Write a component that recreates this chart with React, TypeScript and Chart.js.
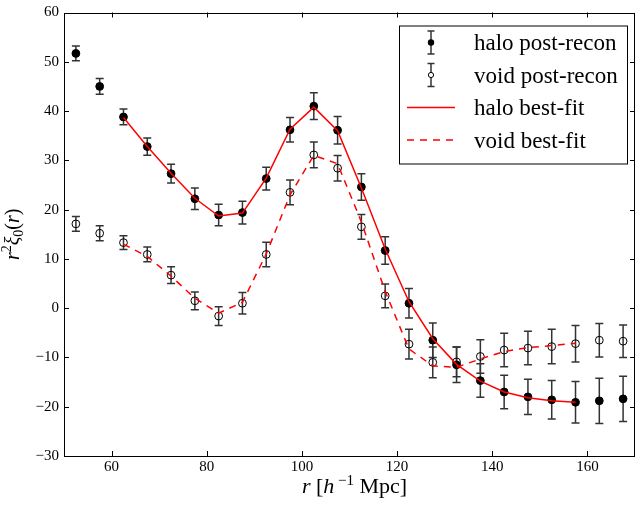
import React, { useEffect, useRef } from 'react';
import { Chart, registerables } from 'chart.js';

Chart.register(...registerables);

// ---- data ----
const rPoints = [52.5, 57.5, 62.5, 67.5, 72.5, 77.5, 82.5, 87.5, 92.5, 97.5, 102.5, 107.5, 112.5, 117.5, 122.5, 127.5, 132.5, 137.5, 142.5, 147.5, 152.5, 157.5, 162.5, 167.5];
const haloValues = [51.7, 45.0, 38.8, 32.8, 27.3, 22.2, 18.9, 19.4, 26.3, 36.2, 41.0, 36.1, 24.6, 11.7, 1.0, -6.5, -11.5, -14.7, -17.0, -18.0, -18.6, -19.1, -18.8, -18.4];
const haloErrors = [1.5, 1.6, 1.6, 1.75, 1.9, 2.2, 2.2, 2.3, 2.3, 2.5, 2.7, 2.8, 2.7, 2.8, 3.0, 3.5, 3.6, 3.4, 3.4, 3.6, 3.9, 4.2, 4.6, 4.6];
const voidValues = [17.1, 15.2, 13.3, 10.9, 6.7, 1.5, -1.6, 1.0, 10.9, 23.5, 31.1, 28.4, 16.5, 2.5, -7.3, -11.0, -10.9, -9.8, -8.5, -8.1, -7.8, -7.2, -6.5, -6.7];
const voidErrors = [1.5, 1.5, 1.4, 1.5, 1.7, 1.8, 1.9, 2.2, 2.5, 2.5, 2.6, 2.6, 2.5, 2.4, 3.0, 3.1, 3.0, 3.4, 3.4, 3.4, 3.5, 3.7, 3.4, 3.3];
const rFit = [62.5, 67.5, 72.5, 77.5, 82.5, 87.5, 92.5, 97.5, 102.5, 107.5, 112.5, 117.5, 122.5, 127.5, 132.5, 137.5, 142.5, 147.5, 152.5, 157.5];
const haloFit = [38.7, 32.8, 27.4, 22.3, 18.7, 19.3, 26.4, 36.3, 40.8, 36.0, 24.4, 12.0, 1.3, -6.2, -11.4, -14.8, -17.0, -18.2, -18.8, -19.1];
const voidFit = [13.0, 10.5, 6.5, 2.0, -1.0, 1.2, 11.0, 23.0, 31.0, 29.3, 17.5, 3.4, -8.3, -11.7, -12.0, -10.3, -8.8, -8.0, -7.6, -7.1];
const xTickValues = [60, 80, 100, 120, 140, 160];
const yTickValues = [-30, -20, -10, 0, 10, 20, 30, 40, 50, 60];
const legendLabels = ['halo post-recon', 'void post-recon', 'halo best-fit', 'void best-fit'];

const SERIF = '"Liberation Serif", "Times New Roman", serif';
const RED = '#ff0000';
const ERR = '#333333';
const DASH = [7, 6];

type Piece = { t: string; style?: 'i' | 'n'; shift?: number; size?: number };

function drawPieces(ctx: CanvasRenderingContext2D, pieces: Piece[], base: number, cx: number, y: number) {
  const fontOf = (p: Piece) => `${p.style === 'i' ? 'italic ' : ''}${p.size ?? base}px ${SERIF}`;
  let total = 0;
  for (const p of pieces) {
    ctx.font = fontOf(p);
    total += ctx.measureText(p.t).width;
  }
  let x = cx - total / 2;
  ctx.textAlign = 'left';
  ctx.textBaseline = 'alphabetic';
  for (const p of pieces) {
    ctx.font = fontOf(p);
    ctx.fillText(p.t, x, y + (p.shift ?? 0));
    x += ctx.measureText(p.t).width;
  }
}

const errorBarPlugin = {
  id: 'errorBars',
  beforeDatasetsDraw(chart: any) {
    const { ctx } = chart;
    const xs = chart.scales.x;
    const ys = chart.scales.y;
    ctx.save();
    ctx.strokeStyle = ERR;
    ctx.lineWidth = 1.5;
    const draw = (vals: number[], errs: number[]) => {
      rPoints.forEach((r, i) => {
        const px = xs.getPixelForValue(r);
        const top = ys.getPixelForValue(vals[i] + errs[i]);
        const bot = ys.getPixelForValue(vals[i] - errs[i]);
        ctx.beginPath();
        ctx.moveTo(px, top);
        ctx.lineTo(px, bot);
        ctx.moveTo(px - 4, top);
        ctx.lineTo(px + 4, top);
        ctx.moveTo(px - 4, bot);
        ctx.lineTo(px + 4, bot);
        ctx.stroke();
      });
    };
    draw(haloValues, haloErrors);
    draw(voidValues, voidErrors);
    ctx.restore();
  },
};

const framePlugin = {
  id: 'frameTicksLegend',
  afterDraw(chart: any) {
    const { ctx, chartArea: a } = chart;
    const xs = chart.scales.x;
    const ys = chart.scales.y;
    ctx.save();
    // frame
    ctx.strokeStyle = '#000';
    ctx.lineWidth = 1;
    ctx.strokeRect(Math.round(a.left) + 0.5, Math.round(a.top) + 0.5, Math.round(a.right - a.left) - 1, Math.round(a.bottom - a.top) - 1);
    // inward ticks
    const L = 5;
    ctx.beginPath();
    xTickValues.forEach((v) => {
      const px = Math.round(xs.getPixelForValue(v)) + 0.5;
      ctx.moveTo(px, a.bottom);
      ctx.lineTo(px, a.bottom - L);
      ctx.moveTo(px, a.top);
      ctx.lineTo(px, a.top + L);
    });
    yTickValues.forEach((v) => {
      const py = Math.round(ys.getPixelForValue(v)) + 0.5;
      ctx.moveTo(a.left, py);
      ctx.lineTo(a.left + L, py);
      ctx.moveTo(a.right, py);
      ctx.lineTo(a.right - L, py);
    });
    ctx.stroke();

    // legend
    const lx = a.right - 236;
    const ly = a.top + 13;
    const lw = 228;
    const lh = 138;
    ctx.fillStyle = '#fff';
    ctx.fillRect(lx, ly, lw, lh);
    ctx.strokeStyle = '#000';
    ctx.lineWidth = 1;
    ctx.strokeRect(lx + 0.5, ly + 0.5, lw, lh);
    const rowBase = [24.5, 57, 89.5, 122];
    const handleX = lx + 32;
    legendLabels.forEach((label, i) => {
      const by = ly + rowBase[i];
      const my = by - 7.5;
      if (i < 2) {
        ctx.strokeStyle = ERR;
        ctx.lineWidth = 1.5;
        ctx.beginPath();
        ctx.moveTo(handleX, my - 11.5);
        ctx.lineTo(handleX, my + 11.5);
        ctx.moveTo(handleX - 3.5, my - 11.5);
        ctx.lineTo(handleX + 3.5, my - 11.5);
        ctx.moveTo(handleX - 3.5, my + 11.5);
        ctx.lineTo(handleX + 3.5, my + 11.5);
        ctx.stroke();
        ctx.beginPath();
        ctx.arc(handleX, my, i === 0 ? 3.2 : 2.6, 0, Math.PI * 2);
        if (i === 0) {
          ctx.fillStyle = '#000';
          ctx.fill();
        } else {
          ctx.fillStyle = '#fff';
          ctx.fill();
          ctx.strokeStyle = '#000';
          ctx.lineWidth = 1;
          ctx.stroke();
        }
      } else {
        ctx.strokeStyle = RED;
        ctx.lineWidth = 1.5;
        ctx.setLineDash(i === 3 ? DASH : []);
        ctx.beginPath();
        ctx.moveTo(lx + 8, my);
        ctx.lineTo(lx + 56, my);
        ctx.stroke();
        ctx.setLineDash([]);
      }
      ctx.fillStyle = '#000';
      ctx.font = `23px ${SERIF}`;
      ctx.textAlign = 'left';
      ctx.textBaseline = 'alphabetic';
      ctx.fillText(label, lx + 75, by);
    });

    // axis titles
    ctx.fillStyle = '#000';
    drawPieces(
      ctx,
      [
        { t: 'r', style: 'i' },
        { t: ' [', style: 'n' },
        { t: 'h', style: 'i' },
        { t: ' \u22121', style: 'n', size: 15, shift: -8 },
        { t: ' Mpc]', style: 'n' },
      ],
      22,
      (a.left + a.right) / 2 + 5,
      a.bottom + 37
    );
    ctx.save();
    ctx.translate(19, (a.top + a.bottom) / 2);
    ctx.rotate(-Math.PI / 2);
    drawPieces(
      ctx,
      [
        { t: 'r', style: 'i' },
        { t: '2', style: 'n', size: 14, shift: -8 },
        { t: '\u03be', style: 'i' },
        { t: '0', style: 'n', size: 14, shift: 4 },
        { t: '(', style: 'n' },
        { t: 'r', style: 'i' },
        { t: ')', style: 'n' },
      ],
      20,
      0,
      0
    );
    ctx.restore();
    ctx.restore();
  },
};

export default function App() {
  const ref = useRef<HTMLCanvasElement | null>(null);
  useEffect(() => {
    if (!ref.current) return;
    const chart = new Chart(ref.current, {
      type: 'scatter',
      data: {
        datasets: [
          {
            label: legendLabels[2],
            data: rFit.map((r, i) => ({ x: r, y: haloFit[i] })),
            showLine: true,
            borderColor: RED,
            borderWidth: 1.5,
            pointRadius: 0,
            fill: false,
            order: 0,
          },
          {
            label: legendLabels[3],
            data: rFit.map((r, i) => ({ x: r, y: voidFit[i] })),
            showLine: true,
            borderColor: RED,
            borderWidth: 1.5,
            borderDash: DASH,
            pointRadius: 0,
            fill: false,
            order: 0,
          },
          {
            label: legendLabels[0],
            data: rPoints.map((r, i) => ({ x: r, y: haloValues[i] })),
            showLine: false,
            pointRadius: 3.9,
            pointBackgroundColor: '#000',
            pointBorderColor: '#000',
            pointBorderWidth: 1,
            order: 1,
          },
          {
            label: legendLabels[1],
            data: rPoints.map((r, i) => ({ x: r, y: voidValues[i] })),
            showLine: false,
            pointRadius: 3.9,
            pointBackgroundColor: 'rgba(255,255,255,0)',
            pointBorderColor: '#000',
            pointBorderWidth: 1,
            order: 1,
          },
        ],
      },
      options: {
        animation: false,
        responsive: false,
        devicePixelRatio: 1,
        events: [],
        layout: { padding: { top: 8, right: 2, left: 0, bottom: 0 } },
        plugins: {
          legend: { display: false },
          tooltip: { enabled: false },
          title: { display: false },
        },
        scales: {
          x: {
            type: 'linear',
            min: 50,
            max: 170,
            grid: { display: false, drawTicks: false },
            border: { display: false },
            afterBuildTicks: (axis: any) => {
              axis.ticks = xTickValues.map((v) => ({ value: v }));
            },
            afterFit: (axis: any) => {
              axis.height = 54;
            },
            ticks: {
              padding: 4,
              color: '#000',
              font: { family: SERIF, size: 15, lineHeight: 1 },
              maxRotation: 0,
              autoSkip: false,
              callback: (v: any) => String(v).replace('-', '\u2212'),
            },
          },
          y: {
            type: 'linear',
            min: -30,
            max: 60,
            grid: { display: false, drawTicks: false },
            border: { display: false },
            afterBuildTicks: (axis: any) => {
              axis.ticks = yTickValues.map((v) => ({ value: v }));
            },
            afterFit: (axis: any) => {
              axis.width = 64;
            },
            ticks: {
              padding: 5,
              color: '#000',
              font: { family: SERIF, size: 15, lineHeight: 1 },
              autoSkip: false,
              callback: (v: any) => String(v).replace('-', '\u2212'),
            },
          },
        },
      },
      plugins: [errorBarPlugin, framePlugin],
    });
    return () => chart.destroy();
  }, []);
  return (
    <div style={{ position: 'fixed', left: 0, top: 0, width: 640, height: 510, background: '#fff' }}>
      <canvas ref={ref} width={640} height={510} style={{ display: 'block' }} />
    </div>
  );
}
